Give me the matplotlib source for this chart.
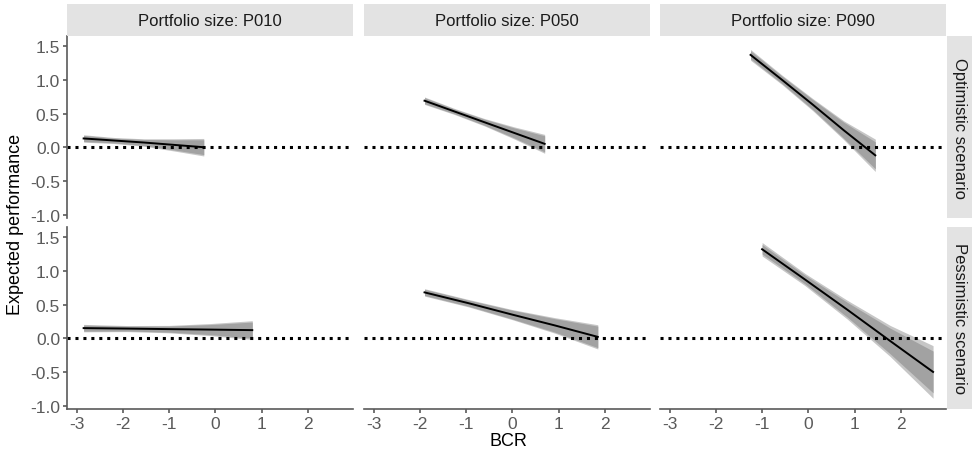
import matplotlib.pyplot as plt

plt.rcParams["font.family"] = ["Liberation Sans", "DejaVu Sans"]

sizes = ["P010", "P050", "P090"]
scenarios = ["Optimistic scenario", "Pessimistic scenario"]

# per (scenario, size): BCR positions, fitted line, band half-widths
bcr_x = {
    (0, 0): [-2.85, -2.2, -1.55, -0.9, -0.25],
    (0, 1): [-1.9, -1.25, -0.6, 0.05, 0.7],
    (0, 2): [-1.25, -0.57, 0.1, 0.77, 1.45],
    (1, 0): [-2.85, -1.9, -1.0, -0.1, 0.8],
    (1, 1): [-1.9, -0.95, 0.0, 0.92, 1.85],
    (1, 2): [-1.0, -0.07, 0.85, 1.77, 2.7],
}
fit_y = {
    (0, 0): [0.13, 0.1, 0.07, 0.035, 0.0],
    (0, 1): [0.69, 0.53, 0.37, 0.21, 0.05],
    (0, 2): [1.37, 1.0, 0.63, 0.25, -0.12],
    (1, 0): [0.15, 0.143, 0.135, 0.128, 0.12],
    (1, 1): [0.68, 0.52, 0.35, 0.19, 0.02],
    (1, 2): [1.32, 0.87, 0.42, -0.04, -0.5],
}
inner_half = {
    (0, 0): [0.045, 0.035, 0.045, 0.075, 0.11],
    (0, 1): [0.045, 0.035, 0.045, 0.075, 0.12],
    (0, 2): [0.06, 0.055, 0.075, 0.12, 0.2],
    (1, 0): [0.045, 0.035, 0.045, 0.075, 0.12],
    (1, 1): [0.045, 0.045, 0.065, 0.1, 0.16],
    (1, 2): [0.07, 0.065, 0.11, 0.19, 0.31],
}
outer_half = {
    (0, 0): [0.055, 0.045, 0.055, 0.09, 0.13],
    (0, 1): [0.055, 0.045, 0.055, 0.09, 0.14],
    (0, 2): [0.08, 0.07, 0.09, 0.14, 0.24],
    (1, 0): [0.055, 0.045, 0.055, 0.09, 0.14],
    (1, 1): [0.055, 0.055, 0.075, 0.115, 0.18],
    (1, 2): [0.1, 0.09, 0.14, 0.23, 0.39],
}

yticks = [-1.0, -0.5, 0.0, 0.5, 1.0, 1.5]
xticks = [-3, -2, -1, 0, 1, 2]

W, H = 972, 456
fig = plt.figure(figsize=(W / 100, H / 100), dpi=100)

col_left = [67, 364, 660]
col_w = 286
row_top = [37, 228]
row_h = 182
strip_top = 5
axcol = "#5a5a5a"
txtcol = "#5a5a5a"

for r in range(2):
    for c in range(3):
        ax = fig.add_axes([col_left[c] / W, 1 - (row_top[r] + row_h) / H,
                           col_w / W, row_h / H])
        k = (r, c)
        xs, ys = bcr_x[k], fit_y[k]
        ax.fill_between(xs, [y - h for y, h in zip(ys, outer_half[k])],
                        [y + h for y, h in zip(ys, outer_half[k])],
                        color="#c6c6c6", lw=0)
        ax.fill_between(xs, [y - h for y, h in zip(ys, inner_half[k])],
                        [y + h for y, h in zip(ys, inner_half[k])],
                        color="#a2a2a2", lw=0)
        ax.plot(xs, ys, color="black", lw=1.4)
        ax.axhline(0, color="black", ls=(0, (1, 1.6)), lw=2.2)
        ax.set_xlim(-3.21, 2.98)
        ax.set_ylim(-1.05, 1.65)
        for s in ["top", "right"]:
            ax.spines[s].set_visible(False)
        ax.spines["left"].set_visible(c == 0)
        ax.spines["bottom"].set_visible(r == 1)
        for s in ["left", "bottom"]:
            ax.spines[s].set_color(axcol)
            ax.spines[s].set_linewidth(1.2)
        ax.set_xticks(xticks)
        ax.set_yticks(yticks)
        ax.set_xticklabels([f"{t:g}" for t in xticks])
        ax.set_yticklabels([f"{t:.1f}" for t in yticks])
        ax.tick_params(axis="both", colors=axcol, labelcolor=txtcol,
                       labelsize=12.5, length=3, width=1.2, pad=2)
        ax.tick_params(axis="x", bottom=(r == 1), labelbottom=(r == 1))
        ax.tick_params(axis="y", left=(c == 0), labelleft=(c == 0))
        ax.patch.set_alpha(0)

# top strips
for c in range(3):
    sax = fig.add_axes([col_left[c] / W, 1 - row_top[0] / H,
                        col_w / W, (row_top[0] - strip_top) / H])
    sax.set_facecolor("#e3e3e3")
    sax.set_xticks([])
    sax.set_yticks([])
    for s in sax.spines.values():
        s.set_visible(False)
    sax.text(0.5, 0.5, f"Portfolio size: {sizes[c]}", ha="center", va="center",
             fontsize=12, color="#1a1a1a", transform=sax.transAxes)

# right strips
for r in range(2):
    sax = fig.add_axes([947 / W, 1 - (row_top[r] + row_h) / H,
                        25 / W, row_h / H])
    sax.set_facecolor("#e3e3e3")
    sax.set_xticks([])
    sax.set_yticks([])
    for s in sax.spines.values():
        s.set_visible(False)
    sax.text(0.5, 0.5, scenarios[r], ha="center", va="center", rotation=-90,
             fontsize=12, color="#1a1a1a", transform=sax.transAxes)

fig.text(16 / W, 1 - 224 / H, "Expected performance", rotation=90,
         ha="center", va="center", fontsize=13, color="black")
fig.text(508 / W, 1 - 442 / H, "BCR", ha="center", va="center",
         fontsize=13, color="black")

fig.savefig("out.png", dpi=100)
